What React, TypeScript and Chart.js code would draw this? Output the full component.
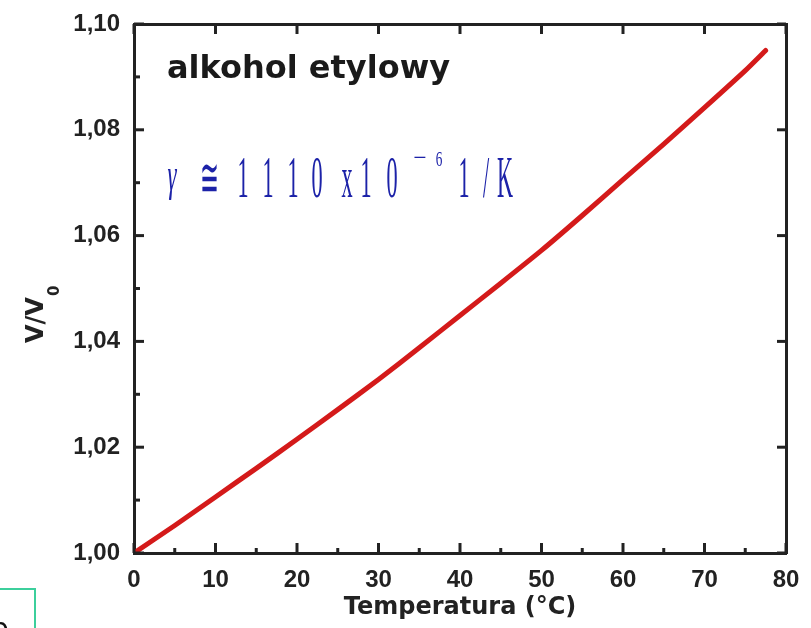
import React, { useEffect, useRef } from "react";
import { Chart, registerables } from "chart.js";

Chart.register(...registerables);

// ---- data ----
const temperatures = [0, 5, 10, 15, 20, 25, 30, 35, 40, 45, 50, 55, 60, 65, 70, 75, 77.5];
const volumeRatio = [1.0, 1.0052, 1.0106, 1.016, 1.0215, 1.0271, 1.0328, 1.0388, 1.0449, 1.051, 1.0572, 1.0638, 1.0706, 1.0773, 1.0842, 1.0912, 1.095];
const xTicks = [0, 10, 20, 30, 40, 50, 60, 70, 80];
const yTicks = [1.0, 1.02, 1.04, 1.06, 1.08, 1.1];
const sampleName = "alkohol etylowy";
const xTitle = "Temperatura (°C)";

const AXIS = "#222222";
const FONT = "'DejaVu Sans', sans-serif";
const TICKFONT = "'Liberation Sans', Arial, sans-serif";

const decorPlugin = {
  id: "decor",
  afterDraw(chart: any) {
    const ctx = chart.ctx as CanvasRenderingContext2D;
    const xs = chart.scales.x;
    const ys = chart.scales.y;
    const { left, right, top, bottom } = chart.chartArea;
    ctx.save();
    ctx.strokeStyle = AXIS;
    ctx.lineWidth = 3;
    ctx.lineCap = "butt";
    for (let v = 0; v <= 80; v += 5) {
      const px = xs.getPixelForValue(v);
      const len = v % 10 === 0 ? 10 : 5;
      ctx.beginPath();
      ctx.moveTo(px, bottom);
      ctx.lineTo(px, bottom - len);
      ctx.stroke();
      if (v % 10 === 0) {
        ctx.beginPath();
        ctx.moveTo(px, top);
        ctx.lineTo(px, top + 10);
        ctx.stroke();
      }
    }
    for (let i = 0; i <= 10; i++) {
      const v = 1 + i * 0.01;
      const py = ys.getPixelForValue(v);
      const major = i % 2 === 0;
      ctx.beginPath();
      ctx.moveTo(left, py);
      ctx.lineTo(left + (major ? 10 : 6), py);
      ctx.stroke();
      if (major) {
        ctx.beginPath();
        ctx.moveTo(right, py);
        ctx.lineTo(right - 9, py);
        ctx.stroke();
      }
    }

    // y title V/V0 rotated
    ctx.save();
    ctx.translate(43, 343);
    ctx.rotate(-Math.PI / 2);
    ctx.fillStyle = AXIS;
    ctx.textAlign = "left";
    ctx.textBaseline = "alphabetic";
    ctx.font = `bold 24px ${FONT}`;
    ctx.fillText("V/V", 0, 0);
    const w = ctx.measureText("V/V").width;
    ctx.font = `bold 15px ${FONT}`;
    ctx.fillText("0", w + 1, 16);
    ctx.restore();

    // sample name
    ctx.fillStyle = "#1a1a1a";
    ctx.font = `bold 32px ${FONT}`;
    ctx.textAlign = "left";
    ctx.textBaseline = "alphabetic";
    ctx.fillText(sampleName, 167, 78);

    // gamma annotation (condensed serif, blue)
    const blue = "#1c22a8";
    ctx.fillStyle = blue;
    ctx.textAlign = "center";
    const serif = "'Liberation Serif', serif";
    const glyphs: [string, number, number, string, number][] = [
      ["γ", 172, 190, `italic 46px ${serif}`, 0.5],
      ["≅", 209, 196, `54px ${serif}`, 0.42],
      ["1", 243, 197, `60px ${serif}`, 0.37],
      ["1", 268, 197, `60px ${serif}`, 0.37],
      ["1", 293, 197, `60px ${serif}`, 0.37],
      ["0", 317, 197, `60px ${serif}`, 0.37],
      ["x", 347, 197, `60px ${serif}`, 0.37],
      ["1", 366, 197, `60px ${serif}`, 0.37],
      ["0", 392, 197, `60px ${serif}`, 0.37],
      ["−", 420, 166, `26px ${serif}`, 0.9],
      ["6", 439, 166, `22px ${serif}`, 0.6],
      ["1", 464, 197, `60px ${serif}`, 0.37],
      ["/", 486, 197, `60px ${serif}`, 0.37],
      ["K", 505, 197, `60px ${serif}`, 0.37],
    ];
    for (const [ch, gx, gy, f, sx] of glyphs) {
      ctx.save();
      ctx.font = f;
      ctx.translate(gx, gy);
      ctx.scale(sx, 1);
      ctx.fillText(ch, 0, 0);
      ctx.restore();
    }

    // corner box with partial label
    ctx.strokeStyle = "#3ccf9c";
    ctx.lineWidth = 2;
    ctx.strokeRect(-4, 589, 39, 60);
    ctx.fillStyle = "#111";
    ctx.textAlign = "left";
    ctx.font = `28px ${FONT}`;
    ctx.fillText("b", -9, 638);
    ctx.restore();
  },
};

export default function App() {
  const ref = useRef<HTMLCanvasElement | null>(null);
  useEffect(() => {
    if (!ref.current) return;
    const tickFont = { family: TICKFONT, size: 24, weight: "bold" as const };
    const border = { display: true, color: AXIS, width: 3 };
    const chart = new Chart(ref.current, {
      type: "line",
      data: {
        datasets: [
          {
            data: temperatures.map((t, i) => ({ x: t, y: volumeRatio[i] })),
            borderColor: "#d41a1a",
            borderWidth: 5,
            borderCapStyle: "round",
            pointRadius: 0,
            tension: 0.2,
            xAxisID: "x",
            yAxisID: "y",
          },
        ],
      },
      options: {
        animation: false,
        responsive: false,
        layout: { padding: 0 },
        plugins: { legend: { display: false }, tooltip: { enabled: false } },
        scales: {
          x: {
            type: "linear",
            position: "bottom",
            min: 0,
            max: 80,
            afterBuildTicks: (s: any) => { s.ticks = xTicks.map((v) => ({ value: v })); },
            ticks: { font: tickFont, color: AXIS, padding: 5, maxRotation: 0 },
            grid: { display: false },
            border,
            title: {
              display: true,
              text: xTitle,
              color: AXIS,
              font: { family: FONT, size: 24, weight: "bold", lineHeight: "40px" },
              padding: 0,
            },
            afterFit: (s: any) => { s.height = 75; },
          },
          x2: {
            type: "linear",
            position: "top",
            min: 0,
            max: 80,
            ticks: { display: false },
            grid: { display: false },
            border,
            afterFit: (s: any) => { s.height = 24; },
          },
          y: {
            type: "linear",
            position: "left",
            min: 1.0,
            max: 1.1,
            afterBuildTicks: (s: any) => { s.ticks = yTicks.map((v) => ({ value: v })); },
            ticks: {
              font: tickFont,
              color: AXIS,
              padding: 6,
              callback: (v: any) => Number(v).toFixed(2).replace(".", ","),
            },
            grid: { display: false },
            border,
            afterFit: (s: any) => { s.width = 134; },
          },
          y2: {
            type: "linear",
            position: "right",
            min: 1.0,
            max: 1.1,
            ticks: { display: false },
            grid: { display: false },
            border,
            afterFit: (s: any) => { s.width = 25; },
          },
        },
      } as any,
      plugins: [decorPlugin],
    });
    return () => chart.destroy();
  }, []);
  return (
    <div style={{ position: "fixed", left: 0, top: 0, width: 811, height: 628, background: "#fff" }}>
      <canvas ref={ref} width={811} height={628} style={{ display: "block" }} />
    </div>
  );
}
